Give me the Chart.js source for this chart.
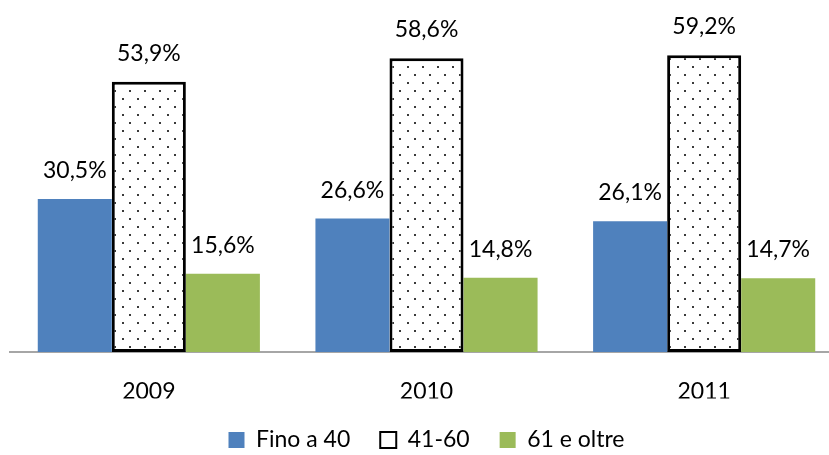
<!DOCTYPE html>
<html>
<head>
<meta charset="utf-8">
<script src="https://cdn.jsdelivr.net/npm/chart.js@4"></script>
<style>
html,body{margin:0;padding:0;background:#fff;overflow:hidden;width:829px;height:455px;}
#wrap{position:absolute;left:0;top:0;width:850px;height:455px;}
</style>
</head>
<body>
<div id="wrap"><canvas id="c" width="850" height="455"></canvas></div>
<script>
const categories = ['2009', '2010', '2011'];
const seriesNames = ['Fino a 40', '41-60', '61 e oltre'];
const fino40 = [30.5, 26.6, 26.1];
const da41a60 = [53.9, 58.6, 59.2];
const oltre61 = [15.6, 14.8, 14.7];

const FONT = 'Lato, "Open Sans", sans-serif';

function makePattern() {
  const p = document.createElement('canvas');
  p.width = 15; p.height = 16;
  const g = p.getContext('2d');
  g.fillStyle = '#ffffff';
  g.fillRect(0, 0, 15, 16);
  g.fillStyle = '#3a3a3a';
  g.fillRect(2, 2, 2, 2);
  g.fillRect(9, 10, 2, 2);
  return document.getElementById('c').getContext('2d').createPattern(p, 'repeat');
}
const dots = makePattern();

const fmt = v => v.toFixed(1).replace('.', ',') + '%';

const labelPlugin = {
  id: 'valueLabels',
  afterDatasetsDraw(chart) {
    const ctx = chart.ctx;
    ctx.save();
    ctx.font = '23px ' + FONT;
    ctx.fillStyle = '#000';
    ctx.textAlign = 'center';
    ctx.textBaseline = 'alphabetic';
    chart.data.datasets.forEach((ds, i) => {
      const meta = chart.getDatasetMeta(i);
      meta.data.forEach((el, j) => {
        ctx.fillText(fmt(ds.data[j]), el.x, el.y - 21);
      });
    });
    ctx.restore();
  }
};

const legendSize = {
  id: 'legendSize',
  beforeInit(chart) {
    const lg = chart.legend;
    if (!lg) return;
    const orig = lg.fit;
    lg.fit = function () {
      orig.call(this);
      this.height = 56.5;
    };
  }
};

new Chart(document.getElementById('c'), {
  type: 'bar',
  data: {
    labels: categories,
    datasets: [
      { label: seriesNames[0], data: fino40, backgroundColor: '#4F81BD', borderWidth: 0 },
      { label: seriesNames[1], data: da41a60, backgroundColor: dots, borderColor: '#000', borderWidth: 3, borderSkipped: false },
      { label: seriesNames[2], data: oltre61, backgroundColor: '#9BBB59', borderWidth: 0 }
    ]
  },
  options: {
    responsive: false,
    devicePixelRatio: 1,
    animation: false,
    layout: { padding: { left: 10, right: 7, top: 1, bottom: 0 } },
    datasets: { bar: { categoryPercentage: 0.8, barPercentage: 1.0 } },
    scales: {
      x: {
        grid: { display: false, drawTicks: false },
        border: { display: true, color: '#A6A6A6', width: 2 },
        ticks: { color: '#000', font: { family: FONT, size: 23 }, padding: 26 },
        afterFit(scale) { scale.height = 46.5; }
      },
      y: { display: false, min: 0, max: 70 }
    },
    plugins: {
      tooltip: { enabled: false },
      legend: {
        position: 'bottom',
        labels: {
          color: '#000',
          font: { family: FONT, size: 23 },
          boxWidth: 16,
          boxHeight: 16,
          padding: 30,
          generateLabels(chart) {
            const cols = ['#4F81BD', '#ffffff', '#9BBB59'];
            return chart.data.datasets.map((ds, i) => ({
              text: ds.label,
              fillStyle: cols[i],
              strokeStyle: i === 1 ? '#000' : cols[i],
              lineWidth: i === 1 ? 2 : 0,
              fontColor: '#000',
              hidden: false,
              datasetIndex: i
            }));
          }
        }
      }
    }
  },
  plugins: [legendSize, labelPlugin]
});
</script>
</body>
</html>
